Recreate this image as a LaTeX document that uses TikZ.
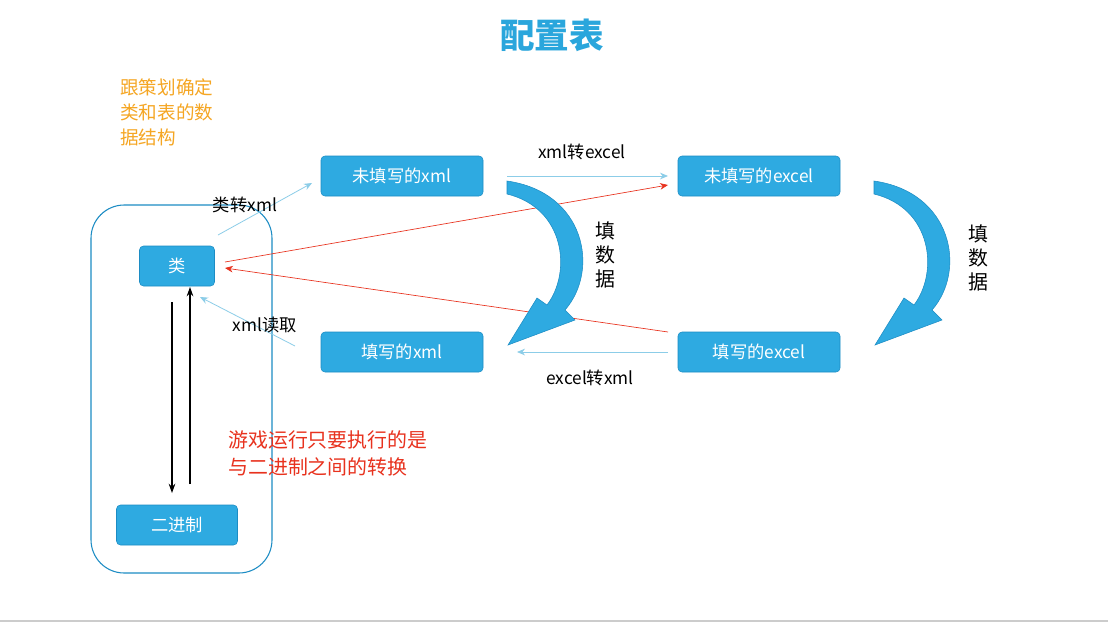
\documentclass[tikz,border=0pt]{standalone}
\usepackage{fontspec}
\setmainfont{Noto Sans CJK SC}
\usetikzlibrary{arrows.meta}
\definecolor{boxblue}{HTML}{2EAAE1}
\definecolor{boxline}{HTML}{1C8CC4}
\definecolor{lblue}{HTML}{8CCDE8}
\definecolor{titleblue}{HTML}{2AA6DC}
\definecolor{orangetxt}{HTML}{F5A623}
\definecolor{redtxt}{HTML}{E8321E}
\def\px{0.0264583cm}
\tikzset{
 bx/.style={draw=boxline,fill=boxblue,rounded corners=3pt,text=white,font=\fontsize{13}{15}\selectfont,inner sep=0pt},
 la/.style={draw=lblue,line width=0.6pt,-{Stealth[length=6pt,width=5pt]}},
 ra/.style={draw=redtxt,line width=0.5pt,-{Stealth[length=6pt,width=5pt]}},
 ka/.style={draw=black,line width=0.8pt,-{Stealth[length=7pt,width=5pt]}},
 lab/.style={font=\fontsize{13}{15}\selectfont,inner sep=1pt},
 curv/.style={fill=boxblue,draw=boxline,line width=0.4pt}
}
\begin{document}
\begin{tikzpicture}[x=0.0264583cm,y=-0.0264583cm]
\useasboundingbox (0,0) rectangle (1108,624);
\fill[white] (0,0) rectangle (1108,624);
\draw[gray!40,line width=1.5pt] (0,621) -- (1108,621);
\node[text=titleblue,font=\fontsize{26}{30}\selectfont\bfseries] (title) at (552,35) {配置表};
\node[text=orangetxt,font=\fontsize{14}{19}\selectfont,align=left,anchor=north west,inner sep=0pt] (note) at (120,78) {跟策划确定\\类和表的数\\据结构};
\draw[boxline,line width=0.8pt,rounded corners=25pt] (91,205) rectangle (272,573);
\node[bx,minimum width=162*\px,minimum height=40*\px] (ux) at (402,176) {未填写的xml};
\node[bx,minimum width=162*\px,minimum height=40*\px] (ue) at (759,176) {未填写的excel};
\node[bx,minimum width=162*\px,minimum height=40*\px] (fx) at (402,352) {填写的xml};
\node[bx,minimum width=162*\px,minimum height=40*\px] (fe) at (759,352) {填写的excel};
\node[bx,minimum width=75*\px,minimum height=40*\px] (cls) at (177,266) {类};
\node[bx,minimum width=121*\px,minimum height=40*\px] (bin) at (177,525) {二进制};
% light blue arrows
\coordinate (a1) at (218,235); \coordinate (a2) at (312,183);
\draw[la] (a1) -- (a2);
\node[lab] (l1) at (245,205) {类转xml};
\coordinate (b1) at (507,176); \coordinate (b2) at (668,176);
\draw[la] (b1) -- (b2);
\node[lab] (l2) at (582,152) {xml转excel};
\coordinate (c1) at (668,352); \coordinate (c2) at (517,352);
\draw[la] (c1) -- (c2);
\node[lab] (l3) at (590,378) {excel转xml};
\coordinate (d1) at (295,346); \coordinate (d2) at (200,297);
\draw[la] (d1) -- (d2);
\node[lab] (l4) at (265,325) {xml读取};
% red
\coordinate (r1) at (225,262); \coordinate (r2) at (668,185);
\draw[ra] (r1) -- (r2);
\coordinate (r3) at (668,332); \coordinate (r4) at (225,268);
\draw[ra] (r3) -- (r4);
% black
\coordinate (k1) at (172,302); \coordinate (k2) at (172,493);
\draw[ka] (k1) -- (k2);
\coordinate (k3) at (190,484); \coordinate (k4) at (190,287);
\draw[ka] (k3) -- (k4);
\node[text=redtxt,font=\fontsize{15}{21}\selectfont,align=left,anchor=north west,inner sep=0pt] (rnote) at (228,430) {游戏运行只要执行的是\\与二进制之间的转换};
% curved arrows
\foreach \dx in {0,367}{
 \begin{scope}[xshift=\dx*0.0264583cm]
 \draw[curv] (507,181) .. controls (585,192) and (600,270) .. (565,310)
   -- (575,320) -- (508,345) -- (537,298) -- (547,305)
   .. controls (572,272) and (565,208) .. (507,194) -- cycle;
 \end{scope}
}
\node[lab,align=center,font=\fontsize{15}{18}\selectfont] (f1) at (605,255) {填\\数\\据};
\node[lab,align=center,font=\fontsize{15}{18}\selectfont] (f2) at (978,258) {填\\数\\据};
\end{tikzpicture}
\end{document}
